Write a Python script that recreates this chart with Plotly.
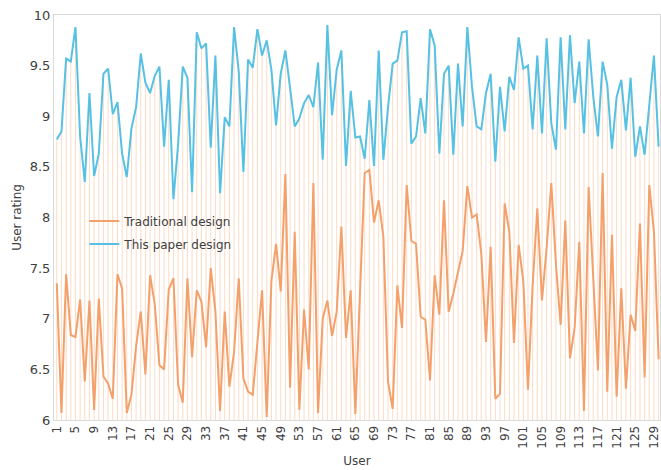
import plotly.graph_objects as go

users = list(range(1, 131))

traditional = [
    7.35, 6.07, 7.44, 6.84, 6.82, 7.19, 6.38, 7.18, 6.10, 7.20,
    6.43, 6.36, 6.21, 7.44, 7.30, 6.07, 6.25, 6.73, 7.07, 6.45,
    7.43, 7.14, 6.54, 6.50, 7.29, 7.40, 6.35, 6.17, 7.40, 6.62,
    7.28, 7.17, 6.72, 7.50, 7.07, 6.09, 7.07, 6.33, 6.67, 7.40,
    6.41, 6.28, 6.25, 6.75, 7.28, 6.03, 7.37, 7.74, 7.27, 8.43,
    6.32, 7.86, 6.10, 7.09, 6.50, 8.34, 6.07, 7.00, 7.18, 6.83,
    7.07, 7.91, 6.81, 7.28, 6.06, 7.27, 8.44, 8.47, 7.95, 8.17,
    7.81, 6.38, 6.11, 7.33, 6.91, 8.32, 7.77, 7.74, 7.02, 6.99,
    6.39, 7.43, 7.04, 8.17, 7.07, 7.25, 7.46, 7.67, 8.31, 8.00,
    8.03, 7.64, 6.77, 7.71, 6.21, 6.26, 8.14, 7.86, 6.76, 7.73,
    7.37, 6.30, 7.33, 8.09, 7.18, 7.70, 8.34, 7.53, 6.94, 7.97,
    6.61, 6.91, 7.76, 6.09, 8.30, 7.43, 6.49, 8.44, 6.28, 7.83,
    6.23, 7.30, 6.31, 7.04, 6.88, 7.94, 6.42, 8.32, 7.86, 6.60,
]

this_paper = [
    8.77, 8.85, 9.57, 9.54, 9.88, 8.80, 8.35, 9.23, 8.41, 8.63,
    9.42, 9.47, 9.02, 9.14, 8.63, 8.40, 8.88, 9.09, 9.62, 9.33,
    9.23, 9.40, 9.49, 8.70, 9.36, 8.18, 8.72, 9.49, 9.38, 8.25,
    9.83, 9.67, 9.72, 8.69, 9.60, 8.24, 8.99, 8.90, 9.88, 9.44,
    8.45, 9.56, 9.48, 9.86, 9.60, 9.75, 9.46, 8.91, 9.42, 9.65,
    9.28, 8.90, 8.98, 9.13, 9.21, 9.09, 9.53, 8.57, 9.90, 9.01,
    9.46, 9.65, 8.51, 9.25, 8.79, 8.80, 8.58, 9.16, 8.51, 9.65,
    8.57, 9.09, 9.52, 9.55, 9.83, 9.84, 8.73, 8.80, 9.18, 8.83,
    9.86, 9.70, 8.63, 9.42, 9.50, 8.62, 9.52, 8.90, 9.88, 9.29,
    8.90, 8.87, 9.23, 9.42, 8.55, 9.29, 8.85, 9.39, 9.26, 9.78,
    9.47, 9.50, 8.87, 9.60, 8.83, 9.77, 8.93, 8.67, 9.78, 8.87,
    9.80, 9.13, 9.54, 8.83, 9.76, 9.19, 8.80, 9.54, 9.31, 8.68,
    9.19, 9.36, 8.86, 9.38, 8.60, 8.90, 8.62, 9.09, 9.60, 8.70,
]

tick_vals = list(range(1, 131, 4))
tick_text = [str(v) for v in tick_vals]
y_ticks = [6, 6.5, 7, 7.5, 8, 8.5, 9, 9.5, 10]
y_text = ["6", "6.5", "7", "7.5", "8", "8.5", "9", "9.5", "10"]

Y_MIN = 6

# drop lines from the axis to the highest point of each user
drop_x, drop_y = [], []
for u, a, b in zip(users, traditional, this_paper):
    drop_x += [u, u, None]
    drop_y += [Y_MIN, max(a, b), None]

FONT = "DejaVu Sans, Verdana, sans-serif"
ORANGE = "#F4A06A"
BLUE = "#56C1E3"

fig = go.Figure()
fig.add_trace(go.Scatter(
    x=drop_x, y=drop_y, mode="lines",
    line=dict(color="rgba(247,190,150,0.55)", width=1),
    showlegend=False, hoverinfo="skip",
))
fig.add_trace(go.Scatter(
    x=users, y=traditional, mode="lines", name="Traditional design",
    legendgroup="a", line=dict(color=ORANGE, width=2),
))
fig.add_trace(go.Scatter(
    x=users, y=this_paper, mode="lines", name="This paper design",
    legendgroup="b", line=dict(color=BLUE, width=2),
))

fig.update_layout(
    width=661, height=470,
    margin=dict(l=54, r=1, t=15, b=50),
    paper_bgcolor="white", plot_bgcolor="white",
    font=dict(family=FONT, size=12, color="#404040"),
    legend=dict(
        x=0.05, y=0.527, xanchor="left", yanchor="top",
        bgcolor="rgba(0,0,0,0)", font=dict(size=12, color="#404040"),
        tracegroupgap=4,
    ),
    xaxis=dict(
        range=[0.4, 130.3],
        tickmode="array", tickvals=tick_vals, ticktext=tick_text,
        tickangle=-90, showgrid=False, zeroline=False,
        showline=True, linecolor="#D9D9D9", mirror=True,
        ticks="", tickfont=dict(size=12, color="#404040"),
        title=dict(text="User", font=dict(size=12, color="#404040"), standoff=8),
    ),
    yaxis=dict(
        range=[6, 10],
        tickmode="array", tickvals=y_ticks, ticktext=y_text,
        showgrid=False, zeroline=False,
        showline=True, linecolor="#D9D9D9", mirror=True,
        ticks="", tickfont=dict(size=13, color="#404040"),
        title=dict(text="User rating", font=dict(size=12, color="#404040"), standoff=5),
    ),
)

fig.write_html(
    "out.html",
    config={"displayModeBar": False},
    post_script="document.body.style.margin='0px';",
)
